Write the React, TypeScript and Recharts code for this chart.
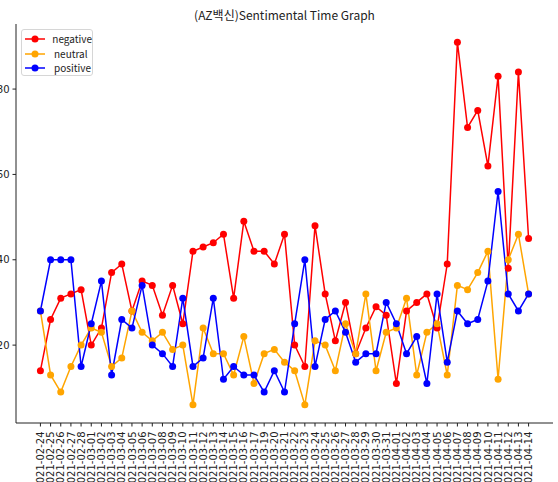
import React from "react";
import { LineChart, Line, XAxis, YAxis } from "recharts";

const dates = [
  "2021-02-24", "2021-02-25", "2021-02-26", "2021-02-27", "2021-02-28",
  "2021-03-01", "2021-03-02", "2021-03-03", "2021-03-04", "2021-03-05",
  "2021-03-06", "2021-03-07", "2021-03-08", "2021-03-09", "2021-03-10",
  "2021-03-11", "2021-03-12", "2021-03-13", "2021-03-14", "2021-03-15",
  "2021-03-16", "2021-03-17", "2021-03-19", "2021-03-20", "2021-03-21",
  "2021-03-22", "2021-03-23", "2021-03-24", "2021-03-25", "2021-03-26",
  "2021-03-27", "2021-03-28", "2021-03-29", "2021-03-30", "2021-03-31",
  "2021-04-01", "2021-04-02", "2021-04-03", "2021-04-04", "2021-04-05",
  "2021-04-06", "2021-04-07", "2021-04-08", "2021-04-09", "2021-04-10",
  "2021-04-11", "2021-04-12", "2021-04-13", "2021-04-14",
];

const negative = [
  14, 26, 31, 32, 33, 20, 24, 37, 39, 28,
  35, 34, 27, 34, 25, 42, 43, 44, 46, 31,
  49, 42, 42, 39, 46, 20, 15, 48, 32, 21,
  30, 18, 24, 29, 27, 11, 28, 30, 32, 24,
  39, 91, 71, 75, 62, 83, 38, 84, 45,
];

const neutral = [
  28, 13, 9, 15, 20, 24, 23, 15, 17, 28,
  23, 21, 23, 19, 20, 6, 24, 18, 18, 13,
  22, 11, 18, 19, 16, 14, 6, 21, 20, 14,
  25, 18, 32, 14, 23, 24, 31, 13, 23, 25,
  13, 34, 33, 37, 42, 12, 40, 46, 32,
];

const positive = [
  28, 40, 40, 40, 15, 25, 35, 13, 26, 24,
  34, 20, 18, 15, 31, 15, 17, 31, 12, 15,
  13, 13, 9, 14, 9, 25, 40, 15, 26, 28,
  23, 16, 18, 18, 30, 25, 18, 22, 11, 32,
  16, 28, 25, 26, 35, 56, 32, 28, 32,
];

const yTicks = [20, 40, 60, 80];

const seriesNames = ["negative", "neutral", "positive"];
const seriesColors = ["#ff0000", "#ffa500", "#0000ff"];

const data = dates.map((d, i) => ({
  i,
  date: d,
  negative: negative[i],
  neutral: neutral[i],
  positive: positive[i],
}));

const xTicks = dates.map((_, i) => i);

const TICK_FONT = "DejaVu Sans";

const XTick = (props: any) => {
  const { x, y, payload } = props;
  return (
    <g transform={`translate(${x},${y})`}>
      <text
        transform="rotate(-90)"
        x={-3}
        y={0}
        dy="0.36em"
        textAnchor="end"
        fontSize={10}
        fontFamily={TICK_FONT}
        fill="#222"
      >
        {dates[payload.value]}
      </text>
    </g>
  );
};

const YTick = (props: any) => {
  const { x, y, payload } = props;
  return (
    <text
      x={x}
      y={y}
      dy="0.36em"
      textAnchor="end"
      fontSize={10}
      fontFamily={TICK_FONT}
      fill="#222"
    >
      {payload.value}
    </text>
  );
};

const LegendBox = () => (
  <div
    style={{
      position: "absolute",
      left: 21,
      top: 29,
      width: 72,
      height: 47,
      border: "1px solid #d6d6d6",
      borderRadius: 3,
      background: "rgba(255,255,255,0.8)",
      boxSizing: "border-box",
      paddingTop: 2,
    }}
  >
    {seriesNames.map((n, k) => (
      <div
        key={n}
        style={{ display: "flex", alignItems: "center", height: 14.5 }}
      >
        <svg width={30} height={10} style={{ marginLeft: 2 }}>
          <line x1={1} y1={5} x2={21} y2={5} stroke={seriesColors[k]} strokeWidth={1.5} />
          <circle cx={11} cy={5} r={3.5} fill={seriesColors[k]} />
        </svg>
        <span
          style={{
            fontFamily: "'Noto Sans CJK KR', 'Noto Sans', sans-serif",
            fontSize: 10,
            color: "#222",
            lineHeight: "14px",
          }}
        >
          {n}
        </span>
      </div>
    ))}
  </div>
);

export default function App() {
  return (
    <div style={{ position: "absolute", left: 0, top: 0, width: 558, height: 482, background: "#fff", overflow: "hidden" }}>
      <div
        style={{
          position: "absolute",
          left: 16,
          width: 537,
          top: 7,
          textAlign: "center",
          fontFamily: "'Noto Sans CJK KR', sans-serif",
          fontSize: 12,
          lineHeight: "16px",
          color: "#222",
        }}
      >
        (AZ백신)Sentimental Time Graph
      </div>
      <LineChart
        width={558}
        height={482}
        data={data}
        margin={{ top: 24, right: 5, left: 0, bottom: 0 }}
      >
        <XAxis
          dataKey="i"
          type="number"
          domain={[-2.4, 50.4]}
          allowDataOverflow
          ticks={xTicks}
          interval={0}
          height={59}
          tickSize={3.5}
          tickMargin={2}
          tick={<XTick />}
          axisLine={{ stroke: "#222" }}
          tickLine={{ stroke: "#222" }}
        />
        <XAxis
          xAxisId="top"
          orientation="top"
          type="number"
          domain={[0, 1]}
          height={0}
          tick={false}
          tickLine={false}
          axisLine={{ stroke: "#222" }}
        />
        <YAxis
          type="number"
          domain={[1.75, 95.25]}
          allowDataOverflow
          ticks={yTicks}
          width={16}
          tickSize={3.5}
          tickMargin={3}
          tick={<YTick />}
          axisLine={{ stroke: "#222" }}
          tickLine={{ stroke: "#222" }}
        />
        <YAxis
          yAxisId="right"
          orientation="right"
          type="number"
          domain={[0, 1]}
          width={0}
          tick={false}
          tickLine={false}
          axisLine={{ stroke: "#222" }}
        />
        {seriesNames.map((n, k) => (
          <Line
            key={n}
            dataKey={n}
            name={n}
            type="linear"
            stroke={seriesColors[k]}
            strokeWidth={1.5}
            dot={{ r: 3.5, fill: seriesColors[k], stroke: seriesColors[k], strokeWidth: 0 }}
            activeDot={false}
            isAnimationActive={false}
          />
        ))}
      </LineChart>
      <LegendBox />
    </div>
  );
}
